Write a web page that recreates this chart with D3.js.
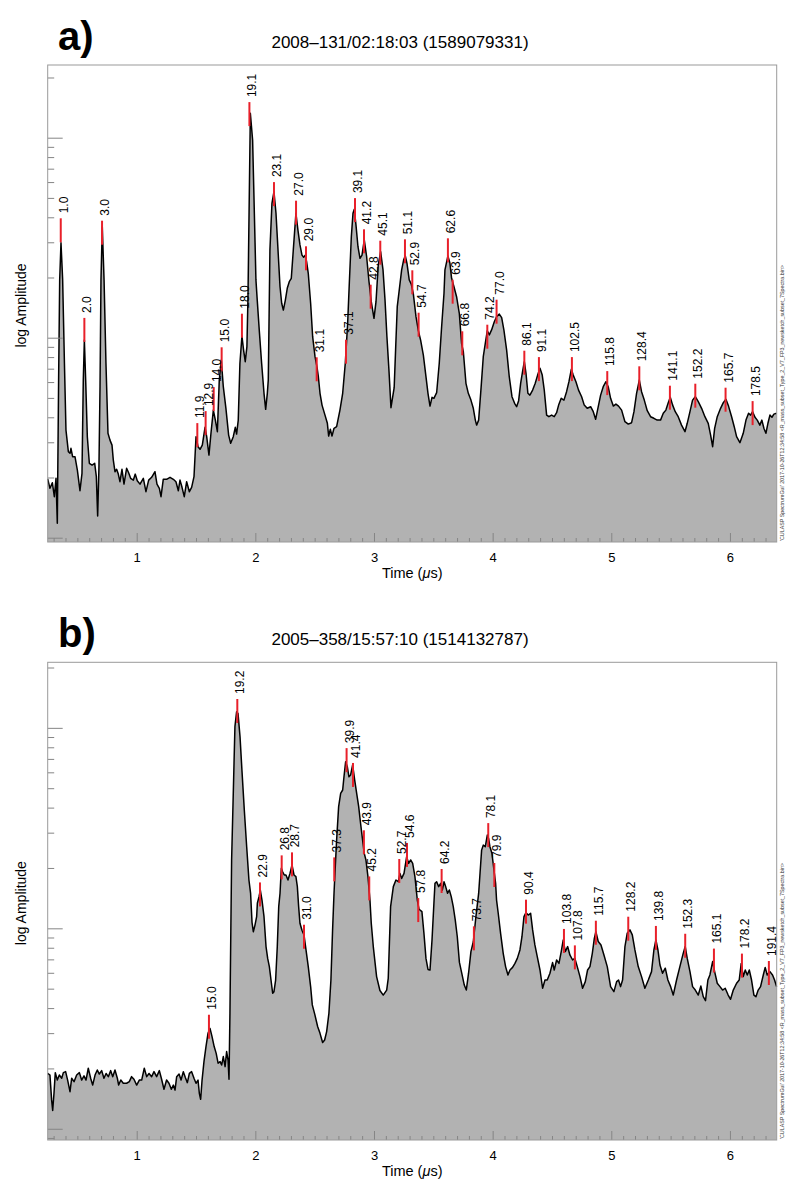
<!DOCTYPE html>
<html>
<head>
<meta charset="utf-8">
<script src="https://cdnjs.cloudflare.com/ajax/libs/d3/7.8.5/d3.min.js"></script>
<style>
    body { margin: 0; background: #fff; }
    svg { display: block; font-family: "Liberation Sans", Arial, Helvetica, sans-serif; }
</style>
</head>
<body>
<div id="chart"></div>
<script>
// ---- data (time in microseconds, log10 of amplitude) ----

const spectrumA = [
    [0.250,-0.706],[0.269,-0.753],[0.289,-0.725],[0.306,-0.795],[0.320,-0.703],[0.331,-0.928],[0.342,-0.212],[0.351,0.289],
    [0.362,0.475],[0.376,0.289],[0.391,-0.128],[0.404,-0.462],[0.424,-0.570],[0.438,-0.578],[0.446,-0.553],[0.460,-0.595],
    [0.480,-0.595],[0.500,-0.662],[0.522,-0.765],[0.539,-0.678],[0.550,-0.212],[0.559,-0.012],[0.570,-0.212],[0.584,-0.495],
    [0.601,-0.628],[0.624,-0.637],[0.646,-0.628],[0.660,-0.695],[0.671,-0.892],[0.682,-0.645],[0.691,-0.245],[0.699,0.289],
    [0.710,0.555],[0.725,0.289],[0.741,-0.128],[0.758,-0.478],[0.775,-0.512],[0.792,-0.537],[0.803,-0.612],[0.817,-0.670],
    [0.831,-0.658],[0.845,-0.682],[0.859,-0.720],[0.876,-0.658],[0.893,-0.732],[0.915,-0.653],[0.932,-0.675],[0.949,-0.703],
    [0.972,-0.712],[0.988,-0.682],[1.005,-0.715],[1.028,-0.732],[1.056,-0.703],[1.078,-0.770],[1.101,-0.712],[1.126,-0.698],
    [1.154,-0.670],[1.171,-0.732],[1.191,-0.753],[1.205,-0.795],[1.224,-0.708],[1.252,-0.708],[1.281,-0.698],[1.309,-0.708],
    [1.331,-0.720],[1.351,-0.765],[1.365,-0.712],[1.382,-0.748],[1.401,-0.795],[1.421,-0.720],[1.444,-0.770],[1.463,-0.748],
    [1.483,-0.695],[1.500,-0.495],[1.517,-0.545],[1.534,-0.558],[1.553,-0.537],[1.576,-0.448],[1.590,-0.495],[1.609,-0.587],
    [1.626,-0.478],[1.646,-0.362],[1.663,-0.412],[1.680,-0.470],[1.696,-0.212],[1.713,-0.112],[1.730,-0.245],[1.752,-0.353],
    [1.775,-0.487],[1.792,-0.528],[1.814,-0.495],[1.831,-0.448],[1.842,-0.482],[1.856,-0.412],[1.870,-0.128],[1.887,0.008],
    [1.901,-0.062],[1.915,-0.120],[1.929,-0.045],[1.938,0.205],[1.958,1.122],[1.977,0.988],[2.005,0.289],[2.016,0.188],
    [2.033,0.038],[2.053,-0.128],[2.073,-0.278],[2.087,-0.358],[2.101,-0.278],[2.109,-0.212],[2.123,0.439],[2.140,0.672],
    [2.157,0.730],[2.174,0.622],[2.191,0.439],[2.208,0.255],[2.222,0.172],[2.236,0.138],[2.253,0.188],[2.269,0.247],
    [2.286,0.280],[2.303,0.297],[2.320,0.439],[2.342,0.622],[2.359,0.538],[2.376,0.464],[2.393,0.413],[2.407,0.402],
    [2.421,0.413],[2.432,0.380],[2.446,0.322],[2.466,0.172],[2.483,0.005],[2.503,-0.095],[2.519,-0.145],[2.531,-0.195],
    [2.545,-0.278],[2.562,-0.337],[2.587,-0.387],[2.607,-0.428],[2.618,-0.492],[2.632,-0.458],[2.646,-0.492],[2.663,-0.453],
    [2.685,-0.445],[2.713,-0.362],[2.736,-0.278],[2.758,-0.128],[2.778,0.072],[2.792,0.272],[2.809,0.505],[2.823,0.622],
    [2.834,0.642],[2.848,0.564],[2.865,0.455],[2.882,0.397],[2.899,0.413],[2.918,0.489],[2.938,0.405],[2.958,0.280],
    [2.977,0.180],[3.000,0.097],[3.017,0.180],[3.036,0.364],[3.056,0.430],[3.076,0.339],[3.093,0.188],[3.109,0.005],
    [3.126,-0.162],[3.143,-0.350],[3.170,-0.250],[3.182,-0.062],[3.196,0.155],[3.213,0.239],[3.233,0.339],[3.250,0.389],
    [3.264,0.409],[3.278,0.372],[3.297,0.289],[3.314,0.268],[3.331,0.222],[3.354,0.105],[3.373,0.038],[3.393,-0.012],
    [3.416,-0.087],[3.438,-0.195],[3.455,-0.278],[3.472,-0.342],[3.489,-0.298],[3.505,-0.303],[3.528,-0.275],[3.550,-0.128],
    [3.570,0.055],[3.590,0.222],[3.598,0.339],[3.623,0.409],[3.640,0.372],[3.654,0.297],[3.674,0.255],[3.696,0.205],
    [3.719,0.122],[3.738,-0.028],[3.753,-0.070],[3.775,-0.228],[3.795,-0.278],[3.817,-0.312],[3.837,-0.353],[3.854,-0.412],
    [3.865,-0.437],[3.882,-0.412],[3.901,-0.262],[3.921,-0.095],[3.938,-0.028],[3.955,0.035],[3.972,0.014],[3.991,0.039],
    [4.014,0.080],[4.033,0.105],[4.056,0.118],[4.076,0.100],[4.095,0.038],[4.118,-0.062],[4.140,-0.195],[4.163,-0.295],
    [4.185,-0.328],[4.202,-0.345],[4.219,-0.315],[4.236,-0.228],[4.252,-0.170],[4.267,-0.120],[4.281,-0.178],[4.297,-0.278],
    [4.314,-0.287],[4.337,-0.262],[4.359,-0.228],[4.379,-0.187],[4.399,-0.153],[4.418,-0.187],[4.435,-0.262],[4.455,-0.387],
    [4.474,-0.395],[4.497,-0.387],[4.519,-0.395],[4.539,-0.375],[4.556,-0.337],[4.578,-0.303],[4.601,-0.312],[4.623,-0.270],
    [4.643,-0.220],[4.663,-0.158],[4.679,-0.187],[4.702,-0.220],[4.724,-0.262],[4.750,-0.295],[4.772,-0.337],[4.797,-0.353],
    [4.826,-0.345],[4.848,-0.370],[4.868,-0.408],[4.887,-0.353],[4.910,-0.287],[4.932,-0.245],[4.955,-0.220],[4.974,-0.245],
    [4.994,-0.303],[5.017,-0.342],[5.039,-0.332],[5.061,-0.342],[5.087,-0.362],[5.115,-0.420],[5.143,-0.432],[5.171,-0.425],
    [5.191,-0.370],[5.213,-0.278],[5.236,-0.212],[5.255,-0.270],[5.278,-0.312],[5.303,-0.365],[5.331,-0.395],[5.359,-0.403],
    [5.387,-0.412],[5.415,-0.412],[5.438,-0.378],[5.460,-0.362],[5.480,-0.325],[5.497,-0.298],[5.517,-0.337],[5.539,-0.370],
    [5.564,-0.395],[5.592,-0.437],[5.621,-0.470],[5.640,-0.428],[5.663,-0.370],[5.685,-0.312],[5.708,-0.295],[5.733,-0.320],
    [5.761,-0.353],[5.789,-0.395],[5.817,-0.428],[5.837,-0.487],[5.854,-0.545],[5.871,-0.453],[5.893,-0.395],[5.921,-0.353],
    [5.944,-0.325],[5.966,-0.308],[5.988,-0.342],[6.014,-0.395],[6.036,-0.445],[6.056,-0.495],[6.084,-0.525],[6.112,-0.478],
    [6.135,-0.412],[6.157,-0.378],[6.174,-0.387],[6.191,-0.370],[6.211,-0.398],[6.230,-0.412],[6.252,-0.437],[6.269,-0.412],
    [6.286,-0.453],[6.303,-0.478],[6.320,-0.428],[6.337,-0.387],[6.354,-0.398],[6.370,-0.382],[6.393,-0.378]
];

const peakLabelsA = ["1.0","2.0","3.0","11.9","12.9","14.0","15.0","18.0","19.1","23.1","27.0","29.0","31.1","37.1","39.1",
    "41.2","42.8","45.1","51.1","52.9","54.7","62.6","63.9","66.8","74.2","77.0","86.1","91.1","102.5","115.8","128.4",
    "141.1","152.2","165.7","178.5"];
const peakTimesA = [0.360,0.559,0.708,1.511,1.581,1.649,1.716,1.887,1.950,2.157,2.343,2.427,2.517,2.764,2.840,
    2.916,2.972,3.053,3.261,3.323,3.376,3.623,3.663,3.744,3.955,4.033,4.267,4.390,4.668,4.966,5.236,
    5.494,5.708,5.963,6.191];
const peakLevelsA = [0.537,0.039,0.525,-0.487,-0.427,-0.307,-0.108,0.060,1.118,0.718,0.625,0.397,-0.158,-0.070,0.638,
    0.482,0.205,0.425,0.432,0.277,0.065,0.437,0.230,-0.028,0.005,0.130,-0.125,-0.157,-0.157,-0.227,-0.203,
    -0.300,-0.290,-0.310,-0.377];

const spectrumB = [
    [0.250,-0.724],[0.269,-0.732],[0.283,-0.856],[0.292,-0.909],[0.303,-0.823],[0.314,-0.720],[0.331,-0.757],[0.348,-0.732],
    [0.368,-0.748],[0.382,-0.720],[0.401,-0.715],[0.418,-0.757],[0.438,-0.815],[0.452,-0.748],[0.472,-0.765],[0.494,-0.732],
    [0.517,-0.720],[0.536,-0.757],[0.556,-0.736],[0.573,-0.757],[0.592,-0.698],[0.612,-0.748],[0.629,-0.782],[0.649,-0.732],
    [0.668,-0.707],[0.685,-0.727],[0.705,-0.710],[0.724,-0.748],[0.742,-0.724],[0.761,-0.740],[0.781,-0.710],[0.798,-0.740],
    [0.817,-0.707],[0.837,-0.748],[0.848,-0.782],[0.866,-0.757],[0.887,-0.773],[0.915,-0.773],[0.938,-0.765],[0.957,-0.740],
    [0.977,-0.753],[1.000,-0.782],[1.022,-0.757],[1.042,-0.757],[1.064,-0.698],[1.084,-0.740],[1.104,-0.724],[1.126,-0.740],
    [1.146,-0.715],[1.168,-0.740],[1.191,-0.710],[1.210,-0.753],[1.230,-0.803],[1.252,-0.757],[1.272,-0.773],[1.292,-0.803],
    [1.309,-0.782],[1.323,-0.807],[1.337,-0.740],[1.357,-0.727],[1.374,-0.757],[1.393,-0.715],[1.410,-0.744],[1.427,-0.770],
    [1.444,-0.724],[1.463,-0.715],[1.483,-0.748],[1.500,-0.773],[1.517,-0.757],[1.528,-0.823],[1.539,-0.853],[1.551,-0.757],
    [1.567,-0.665],[1.584,-0.590],[1.601,-0.524],[1.618,-0.499],[1.635,-0.540],[1.653,-0.590],[1.670,-0.624],[1.686,-0.673],
    [1.703,-0.665],[1.716,-0.682],[1.730,-0.640],[1.745,-0.690],[1.758,-0.615],[1.770,-0.657],[1.778,-0.753],[1.786,-0.424],
    [1.795,0.075],[1.800,0.340],[1.814,0.673],[1.828,1.006],[1.842,1.080],[1.854,1.072],[1.871,0.955],[1.887,0.789],
    [1.907,0.590],[1.927,0.407],[1.946,0.241],[1.960,0.174],[1.972,0.030],[1.983,-0.017],[1.997,0.016],[2.011,0.058],
    [2.017,0.125],[2.031,0.158],[2.042,0.191],[2.056,0.141],[2.073,0.058],[2.090,-0.091],[2.104,-0.150],[2.118,-0.191],
    [2.132,-0.258],[2.146,-0.324],[2.157,-0.316],[2.171,-0.258],[2.185,-0.091],[2.197,0.108],[2.208,0.175],[2.219,0.299],
    [2.230,0.282],[2.244,0.266],[2.258,0.266],[2.275,0.241],[2.292,0.274],[2.309,0.316],[2.326,0.266],[2.342,0.258],
    [2.354,0.208],[2.365,0.108],[2.376,0.025],[2.393,-0.010],[2.410,-0.033],[2.427,-0.108],[2.446,-0.191],[2.466,-0.291],
    [2.480,-0.382],[2.502,-0.432],[2.525,-0.490],[2.545,-0.524],[2.567,-0.570],[2.584,-0.557],[2.601,-0.515],[2.620,-0.424],
    [2.637,-0.258],[2.651,-0.008],[2.663,0.174],[2.671,0.274],[2.685,0.440],[2.702,0.607],[2.719,0.673],[2.736,0.690],
    [2.747,0.756],[2.761,0.831],[2.775,0.806],[2.789,0.756],[2.803,0.765],[2.820,0.815],[2.837,0.740],[2.854,0.673],
    [2.871,0.607],[2.887,0.523],[2.904,0.440],[2.918,0.374],[2.932,0.341],[2.949,0.258],[2.966,0.141],[2.977,0.025],
    [2.994,-0.091],[3.022,-0.241],[3.050,-0.310],[3.078,-0.333],[3.107,-0.308],[3.120,-0.250],[3.140,0.108],[3.163,0.208],
    [3.185,0.241],[3.205,0.233],[3.219,0.274],[3.233,0.249],[3.253,0.274],[3.275,0.357],[3.292,0.324],[3.309,0.341],
    [3.326,0.324],[3.345,0.258],[3.365,0.141],[3.380,0.095],[3.404,0.083],[3.421,-0.025],[3.438,-0.150],[3.455,-0.205],
    [3.472,-0.208],[3.489,-0.058],[3.505,0.125],[3.514,0.224],[3.528,0.232],[3.545,0.208],[3.562,0.224],[3.576,0.191],
    [3.590,0.232],[3.604,0.208],[3.620,0.175],[3.635,0.191],[3.651,0.158],[3.668,0.108],[3.685,0.041],[3.702,-0.042],
    [3.720,-0.170],[3.740,-0.225],[3.761,-0.283],[3.778,-0.308],[3.797,-0.224],[3.817,-0.116],[3.837,-0.067],[3.859,0.058],
    [3.882,0.174],[3.907,0.390],[3.921,0.415],[3.938,0.407],[3.955,0.465],[3.966,0.448],[3.977,0.407],[3.994,0.374],
    [4.011,0.291],[4.025,0.224],[4.033,0.141],[4.047,0.075],[4.067,-0.025],[4.089,-0.125],[4.109,-0.191],[4.129,-0.233],
    [4.146,-0.208],[4.168,-0.195],[4.188,-0.175],[4.208,-0.150],[4.230,-0.108],[4.247,-0.042],[4.264,0.058],[4.281,0.078],
    [4.300,0.066],[4.320,0.075],[4.337,-0.008],[4.356,-0.083],[4.376,-0.141],[4.399,-0.208],[4.421,-0.299],[4.441,-0.258],
    [4.460,-0.258],[4.483,-0.224],[4.505,-0.171],[4.519,-0.208],[4.539,-0.158],[4.559,-0.175],[4.578,-0.116],[4.595,-0.058],
    [4.612,-0.116],[4.632,-0.091],[4.651,-0.133],[4.674,-0.158],[4.693,-0.150],[4.713,-0.191],[4.736,-0.241],[4.758,-0.299],
    [4.781,-0.266],[4.800,-0.208],[4.820,-0.191],[4.840,-0.125],[4.857,-0.050],[4.870,-0.017],[4.890,-0.066],[4.913,-0.083],
    [4.938,-0.133],[4.966,-0.191],[4.994,-0.291],[5.022,-0.316],[5.045,-0.266],[5.061,-0.258],[5.078,-0.291],[5.095,-0.258],
    [5.115,-0.091],[5.134,-0.025],[5.157,-0.008],[5.177,-0.033],[5.199,-0.108],[5.227,-0.191],[5.255,-0.241],[5.283,-0.299],
    [5.312,-0.258],[5.339,-0.216],[5.359,-0.108],[5.376,-0.058],[5.393,-0.108],[5.410,-0.183],[5.432,-0.224],[5.455,-0.199],
    [5.477,-0.258],[5.500,-0.291],[5.522,-0.333],[5.550,-0.258],[5.578,-0.191],[5.606,-0.125],[5.623,-0.091],[5.640,-0.150],
    [5.663,-0.216],[5.685,-0.291],[5.708,-0.308],[5.733,-0.333],[5.755,-0.288],[5.775,-0.341],[5.794,-0.361],[5.814,-0.258],
    [5.831,-0.233],[5.854,-0.166],[5.871,-0.216],[5.893,-0.274],[5.916,-0.291],[5.938,-0.308],[5.960,-0.299],[5.985,-0.333],
    [6.005,-0.354],[6.028,-0.308],[6.056,-0.274],[6.078,-0.258],[6.095,-0.175],[6.112,-0.241],[6.129,-0.208],[6.146,-0.233],
    [6.163,-0.208],[6.182,-0.258],[6.202,-0.333],[6.219,-0.341],[6.238,-0.308],[6.258,-0.291],[6.281,-0.233],[6.297,-0.195],
    [6.314,-0.233],[6.337,-0.216],[6.359,-0.233],[6.376,-0.258],[6.393,-0.291]
];

const peakLabelsB = ["15.0","19.2","22.9","26.8","28.7","31.0","37.3","39.9","41.4","43.9","45.2","52.7","54.6","57.8",
    "64.2","73.7","78.1","79.9","90.4","103.8","107.8","115.7","128.2","139.8","152.3","165.1","178.2","191.4"];
const peakTimesB = [1.609,1.848,2.039,2.222,2.309,2.410,2.665,2.769,2.823,2.915,2.960,3.213,3.278,3.373,
    3.570,3.842,3.963,4.014,4.281,4.601,4.693,4.870,5.143,5.376,5.623,5.865,6.101,6.328];
const peakLevelsB = [-0.491,1.084,0.169,0.304,0.319,-0.042,0.294,0.839,0.765,0.429,0.199,0.286,0.366,0.091,
    0.236,-0.050,0.465,0.266,0.083,-0.063,-0.145,-0.022,-0.002,-0.048,-0.087,-0.161,-0.186,-0.223];

const timeRange = [0.25, 6.394];
const timeTicks = [1, 2, 3, 4, 5, 6];
const titleA = "2008\u2013131/02:18:03 (1589079331)";
const titleB = "2005\u2013358/15:57:10 (1514132787)";
const stampText = "'CULASP SpectrumGui' 2017-10-26T12:34:58 <R_mass_subset_Type_2_V7_FP3_newsketch_subset_7Spectra.bin>";

// ---- layout ----
const W = 800, H = 1191;
const plotLeft = 47.7, plotRight = 776.7;

let svg = d3.select("#chart").append("svg")
    .attr("width", W)
    .attr("height", H);

drawPanel({
    letter: "a)", title: titleA, data: spectrumA,
    labels: peakLabelsA, times: peakTimesA, levels: peakLevelsA,
    top: 65, bottom: 542, yDomain: [-1.0215, 1.3635]
});

drawPanel({
    letter: "b)", title: titleB, data: spectrumB,
    labels: peakLabelsB, times: peakTimesB, levels: peakLevelsB,
    top: 662.3, bottom: 1140, yDomain: [-1.056, 1.327]
});

function drawPanel(p) {
    let x = d3.scaleLinear().domain(timeRange).range([plotLeft, plotRight]);
    let y = d3.scaleLinear().domain(p.yDomain).range([p.bottom, p.top]);

    let g = svg.append("g");

    // filled spectrum
    let area = d3.area()
        .x(d => x(d[0]))
        .y0(p.bottom)
        .y1(d => y(d[1]));
    let line = d3.line()
        .x(d => x(d[0]))
        .y(d => y(d[1]));

    g.append("path")
        .datum(p.data)
        .attr("d", area)
        .attr("fill", "#b2b2b2");

    g.append("path")
        .datum(p.data)
        .attr("d", line)
        .attr("fill", "none")
        .attr("stroke", "#000")
        .attr("stroke-width", 1.5)
        .attr("stroke-linejoin", "round");

    // x axis: major and minor ticks pointing into the plot
    let minorX = d3.range(3, 64).map(v => v / 10).filter(v => Math.abs(v - Math.round(v)) > 1e-6);

    let xMajor = g.append("g")
        .attr("transform", "translate(0," + p.bottom + ")")
        .call(d3.axisBottom(x).tickValues(timeTicks).tickSize(-9).tickPadding(11).tickFormat(d3.format("d")));
    let xMinor = g.append("g")
        .attr("transform", "translate(0," + p.bottom + ")")
        .call(d3.axisBottom(x).tickValues(minorX).tickSize(-4).tickFormat(""));

    // y axis: log decades with 2..9 sub ticks
    let yMajorVals = [], yMinorVals = [];
    for (let d = -2; d <= 1; d++) {
        for (let k = 1; k <= 9; k++) {
            let v = d + Math.log10(k);
            if (v < p.yDomain[0] || v > p.yDomain[1]) continue;
            if (k === 1) yMajorVals.push(v); else yMinorVals.push(v);
        }
    }
    let yMajor = g.append("g")
        .attr("transform", "translate(" + plotLeft + ",0)")
        .call(d3.axisLeft(y).tickValues(yMajorVals).tickSize(-15).tickFormat(""));
    let yMinor = g.append("g")
        .attr("transform", "translate(" + plotLeft + ",0)")
        .call(d3.axisLeft(y).tickValues(yMinorVals).tickSize(-6.5).tickFormat(""));

    [xMajor, xMinor, yMajor, yMinor].forEach(a => {
        a.select(".domain").remove();
        a.selectAll(".tick line").attr("stroke", "#858585").attr("stroke-width", 1);
    });
    xMajor.selectAll(".tick text")
        .attr("fill", "#000")
        .attr("font-size", 13)
        .attr("font-family", "Liberation Sans, Arial, sans-serif");

    // frame
    g.append("rect")
        .attr("x", plotLeft)
        .attr("y", p.top)
        .attr("width", plotRight - plotLeft)
        .attr("height", p.bottom - p.top)
        .attr("fill", "none")
        .attr("stroke", "#9a9a9a")
        .attr("stroke-width", 1);

    // peak markers and labels
    let peaks = p.labels.map((lab, i) => ({label: lab, t: p.times[i], v: p.levels[i]}));

    g.selectAll("line.peak")
        .data(peaks)
        .enter().append("line")
        .attr("class", "peak")
        .attr("x1", d => x(d.t))
        .attr("x2", d => x(d.t))
        .attr("y1", d => y(d.v) - 12)
        .attr("y2", d => y(d.v) + 12)
        .attr("stroke", "#e8202a")
        .attr("stroke-width", 2);

    g.selectAll("text.peak")
        .data(peaks)
        .enter().append("text")
        .attr("class", "peak")
        .attr("transform", d => "translate(" + (x(d.t) + 7) + "," + (y(d.v) - 17) + ") rotate(-90)")
        .attr("font-size", 12)
        .attr("fill", "#000")
        .text(d => d.label);

    // titles and axis labels
    svg.append("text")
        .attr("x", 58)
        .attr("y", p.top - 15)
        .attr("font-size", 40)
        .attr("font-weight", "bold")
        .text(p.letter);

    svg.append("text")
        .attr("x", 400)
        .attr("y", p.top - 17)
        .attr("text-anchor", "middle")
        .attr("font-size", 17)
        .text(p.title);

    let xl = svg.append("text")
        .attr("x", (plotLeft + plotRight) / 2)
        .attr("y", p.bottom + 35.7)
        .attr("text-anchor", "middle")
        .attr("font-size", 14.5);
    xl.append("tspan").text("Time (");
    xl.append("tspan").attr("font-style", "italic").text("\u03bc");
    xl.append("tspan").text("s)");

    svg.append("text")
        .attr("transform", "translate(26," + ((p.top + p.bottom) / 2 + 2) + ") rotate(-90)")
        .attr("text-anchor", "middle")
        .attr("font-size", 14)
        .text("log Amplitude");

    // tiny provenance stamp along the right edge
    svg.append("text")
        .attr("transform", "translate(783.5," + (p.bottom - 1) + ") rotate(-90)")
        .attr("font-size", 4.6)
        .attr("fill", "#333")
        .attr("textLength", 276)
        .attr("lengthAdjust", "spacingAndGlyphs")
        .text(stampText);
}
</script>
</body>
</html>
